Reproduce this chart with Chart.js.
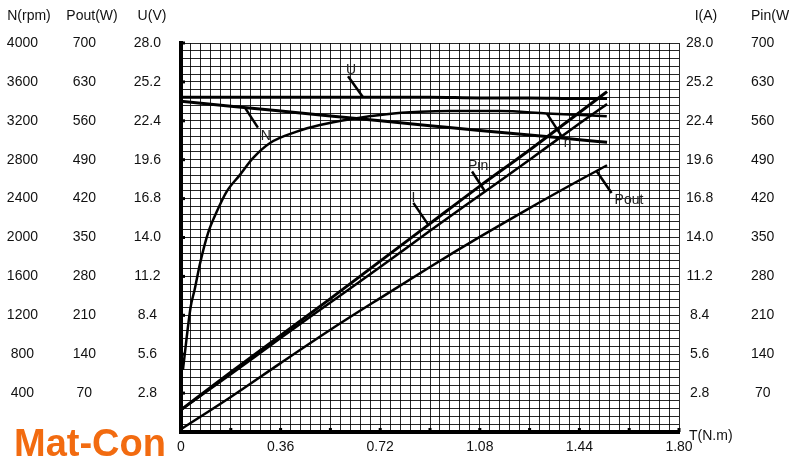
<!DOCTYPE html>
<html>
<head>
<meta charset="utf-8">
<script src="https://cdn.jsdelivr.net/npm/chart.js@4.4.1/dist/chart.umd.min.js"></script>
<style>
  html, body { margin: 0; padding: 0; background: #fff; }
  #wrap { width: 789px; height: 463px; }
</style>
</head>
<body>
<div id="wrap"><canvas id="motorChart" width="789" height="463"></canvas></div>
<script>
// torque (N.m) where the straight-ish curves were read
const torque = [0, 0.18, 0.36, 0.54, 0.72, 0.90, 1.08, 1.26, 1.44, 1.54];
const speed = [3400, 3350, 3300, 3250, 3200, 3150, 3100, 3055, 3005, 2980];      // N (rpm)
const voltage = [24.1, 24.1, 24.1, 24.1, 24.1, 24.1, 24.05, 24.05, 24.0, 24.0];    // U (V)
const current = [1.6, 4.3, 6.95, 9.6, 12.3, 15.0, 17.7, 20.3, 23.0, 24.5];         // I (A)
const powerIn = [40, 104, 169, 233, 297, 362, 426, 490, 555, 590];                 // Pin (W)
const powerOut = [5, 63, 124, 184, 241, 297, 351, 403, 453, 480];                  // Pout (W)

// efficiency has its own points, it rises steeply near zero torque
const effTorque = [0.007, 0.035, 0.049, 0.069, 0.098, 0.129, 0.165, 0.213, 0.26, 0.322, 0.418, 0.502, 0.611, 0.743, 0.864, 0.972, 1.153, 1.322, 1.539];
const efficiency = [16, 32.2, 36.5, 43.4, 51.2, 56.6, 61.8, 66.1, 70.4, 74.3, 77.2, 78.9, 80.4, 81.7, 82.3, 82.5, 82.5, 81.9, 81.2];

// tick labels
const torqueLabels = ["0", "0.36", "0.72", "1.08", "1.44", "1.80"];
const speedLabels = ["400", "800", "1200", "1600", "2000", "2400", "2800", "3200", "3600", "4000"];
const wattLabels = ["70", "140", "210", "280", "350", "420", "490", "560", "630", "700"];
const voltLabels = ["2.8", "5.6", "8.4", "11.2", "14.0", "16.8", "19.6", "22.4", "25.2", "28.0"];
const ampLabels = ["2.8", "5.6", "8.4", "11.2", "14.0", "16.8", "19.6", "22.4", "25.2", "28.0"];

const FONT = "'Liberation Sans', Arial, sans-serif";
const INK = "#111";

// where each curve name sits: t = torque on the curve, offsets in px
const curveNotes = [
    { text: "U", series: "U", t: 0.658, lead: [-15, -21], label: [-12, -27], align: "center" },
    { text: "N", series: "N", t: 0.231, lead: [13, 20], label: [21, 29], align: "center" },
    { text: "η", series: "eff", t: 1.322, lead: [15, 23], label: [21, 30], align: "center" },
    { text: "Pin", series: "Pin", t: 1.099, lead: [-13, -20], label: [-7, -25], align: "center" },
    { text: "I", series: "I", t: 0.894, lead: [-15, -22], label: [-15, -27], align: "center" },
    { text: "Pout", series: "Pout", t: 1.502, lead: [15, 22], label: [18, 29], align: "left" }
];

function points(xs, ys) {
    return xs.map((x, i) => ({ x: x, y: ys[i] }));
}

function tickFrom(labels, every) {
    return function (value, index) {
        if (index === 0 || index % every !== 0) return "";
        return labels[index / every - 1];
    };
}

// fixed width, and no extra label padding pushed into the layout
function fixWidth(width) {
    return function (scale) {
        scale.width = width;
        scale.paddingTop = 0;
        scale.paddingBottom = 0;
    };
}

function sideAxis(position, weight, max, step, labels, padding, width) {
    return {
        type: "linear",
        position: position,
        weight: weight,
        min: 0,
        max: max,
        grid: { display: false, drawTicks: false },
        border: { display: false },
        ticks: {
            stepSize: step,
            autoSkip: false,
            padding: padding,
            crossAlign: "center",
            color: INK,
            font: { family: FONT, size: 14 },
            callback: tickFrom(labels, 1)
        },
        afterFit: fixWidth(width)
    };
}

function line(label, data, axis, width) {
    return {
        label: label,
        data: data,
        yAxisID: axis,
        borderColor: "#000",
        borderWidth: width,
        pointRadius: 0,
        fill: false,
        cubicInterpolationMode: "monotone"
    };
}

function valueAt(data, t) {
    for (let i = 1; i < data.length; i++) {
        if (t <= data[i].x) {
            const a = data[i - 1], b = data[i];
            return a.y + (b.y - a.y) * (t - a.x) / (b.x - a.x);
        }
    }
    return data[data.length - 1].y;
}

const decorations = {
    id: "decorations",
    afterDatasetsDraw(chart) {
        const ctx = chart.ctx;
        const area = chart.chartArea;
        const xs = chart.scales.x;
        const us = chart.scales.yU;

        ctx.save();
        ctx.fillStyle = "#000";
        // little tick bumps on the thick axes
        us.ticks.forEach((tk, i) => {
            if (i % 5 === 0) ctx.fillRect(area.left, us.getPixelForTick(i) - 1.5, 4, 3);
        });
        xs.ticks.forEach((tk, i) => {
            if (i % 5 === 0) ctx.fillRect(xs.getPixelForTick(i) - 1.5, area.bottom - 4, 3, 4);
        });

        // curve names with leader lines
        ctx.strokeStyle = "#000";
        ctx.lineWidth = 2.5;
        ctx.font = "14px " + FONT;
        ctx.textBaseline = "middle";
        curveNotes.forEach(note => {
            const ds = chart.data.datasets.find(d => d.label === note.series);
            const px = xs.getPixelForValue(note.t);
            const py = chart.scales[ds.yAxisID].getPixelForValue(valueAt(ds.data, note.t));
            ctx.beginPath();
            ctx.moveTo(px, py);
            ctx.lineTo(px + note.lead[0], py + note.lead[1]);
            ctx.stroke();
            ctx.fillStyle = "#222";
            ctx.textAlign = note.align;
            ctx.fillText(note.text, px + note.label[0], py + note.label[1]);
        });

        // axis headers
        ctx.fillStyle = INK;
        ctx.textAlign = "center";
        ctx.fillText("N(rpm)", 29, 16);
        ctx.fillText("Pout(W)", 92, 16);
        ctx.fillText("U(V)", 152, 16);
        ctx.fillText("I(A)", 706, 16);
        ctx.textAlign = "left";
        ctx.fillText("Pin(W)", 751, 16);
        ctx.fillText("T(N.m)", 689, 436);

        // watermark
        ctx.fillStyle = "#f26b10";
        ctx.font = "bold 38px " + FONT;
        ctx.textBaseline = "alphabetic";
        ctx.fillText("Mat-Con", 14, 456);
        ctx.restore();
    }
};

const ctx = document.getElementById("motorChart").getContext("2d");
const motorChart = new Chart(ctx, {
    type: "line",
    data: {
        datasets: [
            line("U", points(torque, voltage), "yU", 3),
            line("N", points(torque, speed), "yN", 3),
            line("eff", points(effTorque, efficiency), "yEff", 2.5),
            line("I", points(torque, current), "yI", 3),
            line("Pin", points(torque, powerIn), "yPin", 2.5),
            line("Pout", points(torque, powerOut), "yPout", 2.5)
        ]
    },
    options: {
        responsive: false,
        animation: false,
        layout: { padding: { top: 43, left: 0, right: 0, bottom: 0 } },
        plugins: { legend: { display: false }, tooltip: { enabled: false } },
        scales: {
            x: {
                type: "linear",
                min: 0,
                max: 1.8,
                grid: { color: "rgba(0,0,0,0.85)", lineWidth: 1, drawTicks: false },
                border: { color: "#000", width: 4 },
                ticks: {
                    stepSize: 0.036,
                    autoSkip: false,
                    maxRotation: 0,
                    minRotation: 0,
                    padding: 7,
                    color: INK,
                    font: { family: FONT, size: 14 },
                    callback: function (value, index) {
                        return index % 10 === 0 ? torqueLabels[index / 10] : "";
                    }
                },
                afterFit: function (scale) { scale.height = 31; }
            },
            yU: {
                type: "linear",
                position: "left",
                weight: 0,
                min: 0,
                max: 28,
                grid: { color: "rgba(0,0,0,0.85)", lineWidth: 1, drawTicks: false },
                border: { color: "#000", width: 4 },
                ticks: {
                    stepSize: 0.56,
                    autoSkip: false,
                    padding: 20,
                    crossAlign: "center",
                    color: INK,
                    font: { family: FONT, size: 14 },
                    callback: tickFrom(voltLabels, 5)
                },
                afterFit: fixWidth(57)
            },
            yPout: sideAxis("left", 1, 700, 70, wattLabels, 28, 62),
            yN: sideAxis("left", 2, 4000, 400, speedLabels, 24, 62),
            yI: sideAxis("right", 0, 28, 2.8, ampLabels, 7, 50),
            yPin: sideAxis("right", 1, 700, 70, wattLabels, 22, 60),
            yEff: { type: "linear", display: false, min: 0, max: 100 }
        }
    },
    plugins: [decorations]
});
</script>
</body>
</html>
